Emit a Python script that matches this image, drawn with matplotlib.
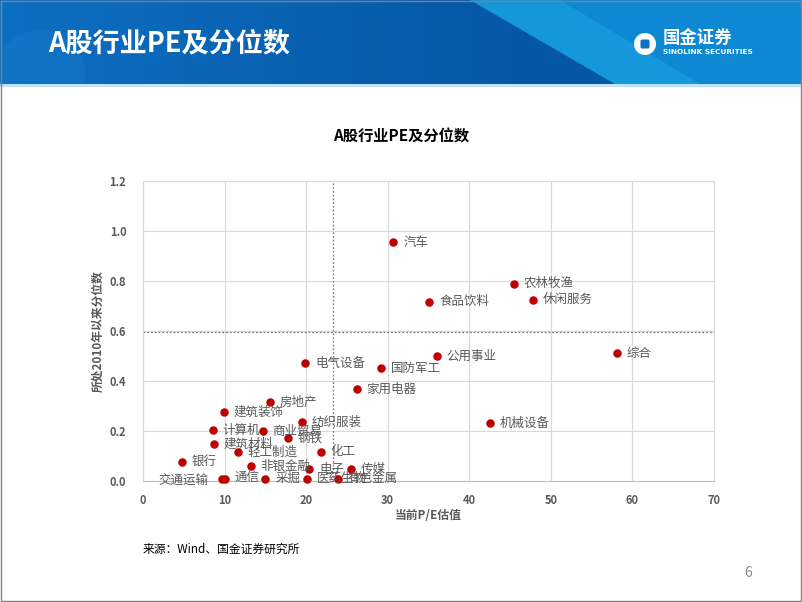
import numpy as np
import matplotlib
matplotlib.use("Agg")
import matplotlib.pyplot as plt
from matplotlib.patches import Polygon, Rectangle, Circle, FancyBboxPatch
from matplotlib.colors import LinearSegmentedColormap

plt.rcParams['font.family'] = ['Noto Sans CJK SC', 'DejaVu Sans']

# industry, current P/E, percentile since 2010
names = ['汽车', '农林牧渔', '休闲服务', '食品饮料', '综合', '公用事业', '电气设备',
         '国防军工', '家用电器', '机械设备', '房地产', '建筑装饰', '纺织服装', '计算机',
         '商业贸易', '钢铁', '建筑材料', '轻工制造', '化工', '银行', '非银金融', '电子',
         '传媒', '交通运输', '通信', '采掘', '医药生物', '有色金属']
pe = [30.7, 45.5, 47.8, 35.1, 58.1, 36.0, 19.9,
      29.2, 26.2, 42.5, 15.6, 9.9, 19.5, 8.6,
      14.7, 17.8, 8.7, 11.6, 21.8, 4.8, 13.2, 20.4,
      25.5, 9.7, 10.0, 15.0, 20.1, 23.9]
pct = [0.955, 0.79, 0.726, 0.718, 0.512, 0.50, 0.472,
       0.452, 0.368, 0.232, 0.316, 0.276, 0.236, 0.204,
       0.20, 0.172, 0.148, 0.116, 0.116, 0.076, 0.06, 0.048,
       0.048, 0.01, 0.01, 0.01, 0.01, 0.01]
left_labels = ['交通运输']
pe_median = 23.3
pct_line = 0.596

W, H = 802, 602
fig = plt.figure(figsize=(W / 100, H / 100), dpi=100)

# background / banner layer in pixel coords
bg = fig.add_axes([0, 0, 1, 1])
bg.set_xlim(0, W)
bg.set_ylim(H, 0)
bg.axis('off')
grad = np.linspace(0, 1, 256).reshape(1, -1)
cmap = LinearSegmentedColormap.from_list('b', ['#0d6fc2', '#0a62b3', '#0656a6', '#0a5aa8'])
bg.imshow(grad, extent=[0, W, 84, 0], cmap=cmap, aspect='auto', zorder=0)
banner = Rectangle((0, 0), W, 84, transform=bg.transData)
c = Circle((40, 75), 45, facecolor='#1a7dcc', edgecolor='none', alpha=0.35, zorder=1)
bg.add_patch(c)
c.set_clip_path(banner)
bg.add_patch(Polygon([[470, 0], [W, 0], [W, 84], [615, 84]], closed=True,
                     facecolor='#1597dc', edgecolor='none', zorder=1))
bg.add_patch(Polygon([[560, 0], [W, 0], [W, 84], [700, 84]], closed=True,
                     facecolor='#0b7fcf', edgecolor='none', alpha=0.6, zorder=1))
bg.add_patch(Rectangle((0, 84), W, 3, facecolor='#bfe3f7', edgecolor='none', zorder=2))
bg.text(48, 43, 'A股行业PE及分位数', color='white', fontsize=19.5, fontweight='bold',
        va='center', ha='left', zorder=3)
# logo
bg.add_patch(Circle((645, 44), 11, facecolor='white', edgecolor='none', zorder=3))
bg.add_patch(FancyBboxPatch((641, 40), 8, 8, boxstyle='round,pad=0.5,rounding_size=1.5',
                            facecolor='#0b72c4', edgecolor='none', zorder=4))
bg.text(663, 38, '国金证券', color='white', fontsize=12.5, fontweight='bold',
        va='center', ha='left', zorder=3)
bg.text(663, 52, 'SINOLINK SECURITIES', color='white', fontsize=5.3, fontweight='bold',
        va='center', ha='left', zorder=3, family='DejaVu Sans')
bg.text(401, 137, 'A股行业PE及分位数', color='black', fontsize=11, fontweight='bold',
        va='center', ha='center')
bg.text(143, 549, '来源：Wind、国金证券研究所', color='black', fontsize=8.5,
        style='italic', va='center', ha='left')
bg.text(748, 573, '6', color='#8c8c8c', fontsize=10, va='center', ha='center')
bg.add_patch(Rectangle((0.5, 0.5), W - 1.5, H - 1.5, facecolor='none',
                       edgecolor='#808080', linewidth=1, zorder=5))

# chart
ax = fig.add_axes([143 / W, 1 - 481 / H, (714 - 143) / W, (481 - 181) / H])
ax.set_xlim(0, 70)
ax.set_ylim(0, 1.2)
ax.set_xticks(np.arange(0, 71, 10))
ax.set_yticks(np.arange(0, 1.21, 0.2))
ax.set_yticklabels(['%.1f' % v for v in np.arange(0, 1.21, 0.2)])
ax.grid(True, color='#d9d9d9', linewidth=0.8)
ax.set_axisbelow(True)
for s in ['top', 'right', 'left']:
    ax.spines[s].set_color('#d9d9d9')
    ax.spines[s].set_linewidth(0.8)
ax.spines['bottom'].set_color('#bfbfbf')
ax.tick_params(length=0, pad=12, labelsize=8, labelcolor='#595959')
for lab in ax.get_xticklabels() + ax.get_yticklabels():
    lab.set_fontweight('bold')
ax.tick_params(axis='x', pad=9)

ax.axvline(pe_median, color='#7f7f7f', linestyle=(0, (1.5, 1.5)), linewidth=0.9)
ax.axhline(pct_line, color='#7f7f7f', linestyle=(0, (1.5, 1.5)), linewidth=0.9)

ax.scatter(pe, pct, s=26, color='#c00000', zorder=3, clip_on=False)
for n, x, y in zip(names, pe, pct):
    if n in left_labels:
        ax.annotate(n, (x, y), xytext=(-10, -2), textcoords='offset points',
                    ha='right', va='center', fontsize=9, color='#595959')
    else:
        ax.annotate(n, (x, y), xytext=(7, 0), textcoords='offset points',
                    ha='left', va='center', fontsize=9, color='#595959')

ax.set_xlabel('当前P/E估值', fontsize=8.5, fontweight='bold', color='#595959', labelpad=2)
ax.set_ylabel('所处2010年以来分位数', fontsize=8.5, fontweight='bold', color='#595959', labelpad=4)

fig.savefig('out.png', dpi=100)
